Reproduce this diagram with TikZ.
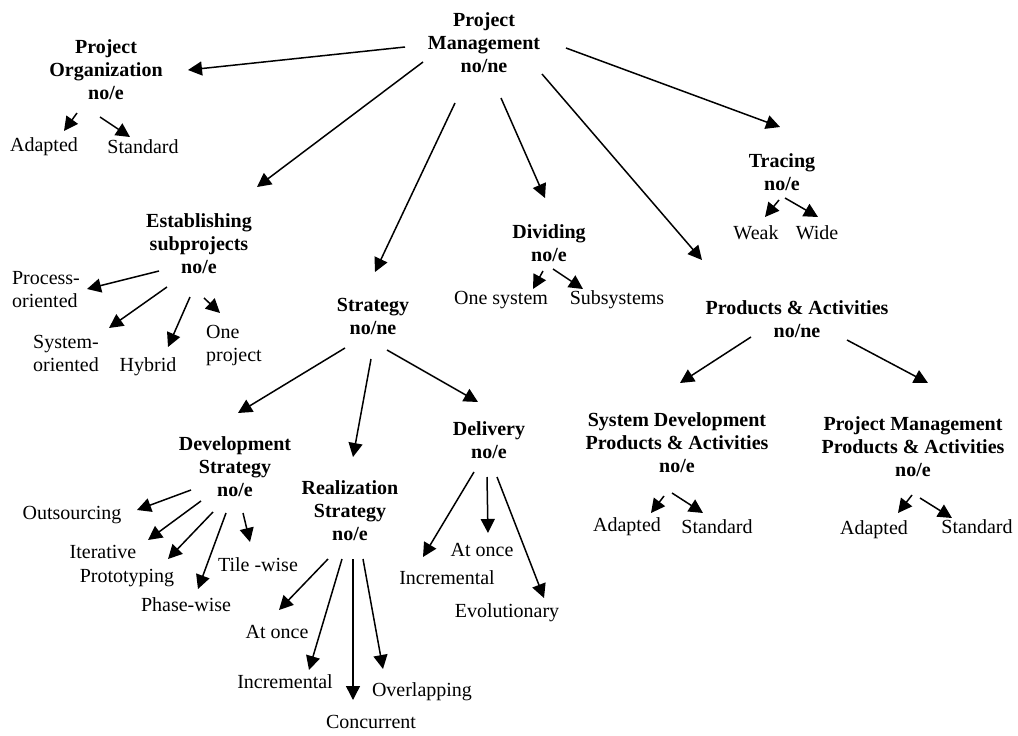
\documentclass[tikz,border=0pt]{standalone}
\usepackage{fontspec}
\setmainfont{Liberation Serif}
\usetikzlibrary{arrows.meta,calc}

\tikzset{
  lbl/.style={inner sep=0pt, align=center, font=\fontsize{20}{23}\selectfont},
  head/.style={lbl, font=\fontsize{20}{23}\selectfont\bfseries},
  leaf/.style={lbl},
  leafl/.style={lbl, align=left},
  arr/.style={line width=1.5pt, -{Triangle[length=14pt,width=14pt]}}
}
% arrow between two nodes, each end given as an offset from the node centre
\newcommand\lnk[4]{\draw[arr] ($(#1)+(#2)$) -- ($(#3)+(#4)$);}

\begin{document}
\begin{tikzpicture}[x=1pt,y=-1pt]
\useasboundingbox (0,0) rectangle (1018,736);

% root
\node[head] (pm) at (484,43) {Project\\Management\\no/ne};

% project organization
\node[head] (po) at (106,70) {Project\\Organization\\no/e};
\node[leaf] (po-a) at (44,147) {Adapted};
\node[leaf] (po-s) at (143,147) {Standard};

% establishing subprojects
\node[head] (est) at (199,244) {Establishing\\subprojects\\no/e};
\node[leafl] (est-p) at (46,290) {Process-\\oriented};
\node[leafl] (est-s) at (66,353) {System-\\oriented};
\node[leaf] (est-h) at (148,367) {Hybrid};
\node[leafl] (est-o) at (234,346) {One\\project};

% strategy
\node[head] (str) at (373,316) {Strategy\\no/ne};

% dividing
\node[head] (div) at (549,243) {Dividing\\no/e};
\node[leaf] (div-o) at (501,300) {One system};
\node[leaf] (div-s) at (617,300) {Subsystems};

% tracing
\node[head] (tr) at (782,172) {Tracing\\no/e};
\node[leaf] (tr-w) at (756,233) {Weak};
\node[leaf] (tr-d) at (817,233) {Wide};

% products & activities
\node[head] (pa) at (797,319) {Products \& Activities\\no/ne};
\node[head] (sd) at (677,443) {System Development\\Products \& Activities\\no/e};
\node[leaf] (sd-a) at (627,527) {Adapted};
\node[leaf] (sd-s) at (717,527) {Standard};
\node[head] (pp) at (913,447) {Project Management\\Products \& Activities\\no/e};
\node[leaf] (pp-a) at (874,530) {Adapted};
\node[leaf] (pp-s) at (977,527) {Standard};

% development strategy
\node[head] (ds) at (235,467) {Development\\Strategy\\no/e};
\node[leaf] (ds-o) at (72,515) {Outsourcing};
\node[leaf] (ds-i) at (103,552) {Iterative};
\node[leaf] (ds-r) at (127,578) {Prototyping};
\node[leaf] (ds-p) at (186,605) {Phase-wise};
\node[leaf] (ds-t) at (258,565) {Tile -wise};

% realization strategy
\node[head] (rs) at (350,511) {Realization\\Strategy\\no/e};
\node[leaf] (rs-a) at (277,632) {At once};
\node[leaf] (rs-i) at (285,682) {Incremental};
\node[leaf] (rs-c) at (371,722) {Concurrent};
\node[leaf] (rs-o) at (422,692) {Overlapping};

% delivery
\node[head] (dl) at (489,440) {Delivery\\no/e};
\node[leaf] (dl-a) at (482,550) {At once};
\node[leaf] (dl-i) at (447,578) {Incremental};
\node[leaf] (dl-e) at (507,613) {Evolutionary};

% connectors from the root
\lnk{pm}{-79,4}{po}{82,0}
\lnk{pm}{-61,19}{est}{58,-57}
\lnk{pm}{-29,60}{str}{2,-44}
\lnk{pm}{17,55}{div}{-4,-45}
\lnk{pm}{58,31}{pa}{-95,-59}
\lnk{pm}{82,5}{tr}{-2,-45}

% second level
\lnk{po}{-29,43}{po-a}{20,-16}
\lnk{po}{-6,47}{po-s}{-13,-10}
\lnk{est}{-40,27}{est-p}{41,-1}
\lnk{est}{-32,43}{est-s}{43,-25}
\lnk{est}{-9,53}{est-h}{20,-20}
\lnk{est}{5,54}{est-o}{-14,-33}
\lnk{div}{-6,28}{div-o}{32,-11}
\lnk{div}{4,26}{div-s}{-34,-11}
\lnk{tr}{-3,28}{tr-w}{9,-16}
\lnk{tr}{3,26}{tr-d}{1,-16}
\lnk{pa}{-46,18}{sd}{3,-60}
\lnk{pa}{50,21}{pp}{15,-64}
\lnk{sd}{-13,53}{sd-a}{24,-14}
\lnk{sd}{-5,50}{sd-s}{-14,-14}
\lnk{pp}{-1,48}{pp-a}{24,-17}
\lnk{pp}{7,51}{pp-s}{-25,-9}

% strategy branches
\lnk{str}{-28,32}{ds}{3,-54}
\lnk{str}{-2,43}{rs}{3,-54}
\lnk{str}{14,34}{dl}{-11,-38}
\lnk{ds}{-44,23}{ds-o}{65,-5}
\lnk{ds}{-34,34}{ds-i}{45,-12}
\lnk{ds}{-22,45}{ds-r}{41,-19}
\lnk{ds}{-9,46}{ds-p}{12,-16}
\lnk{ds}{8,46}{ds-t}{-8,-23}
\lnk{rs}{-22,48}{rs-a}{2,-22}
\lnk{rs}{-8,48}{rs-i}{24,-12}
\lnk{rs}{3,48}{rs-c}{-18,-22}
\lnk{rs}{13,48}{rs-o}{-39,-23}
\lnk{dl}{-15,32}{dl-i}{-24,-21}
\lnk{dl}{-2,37}{dl-a}{6,-17}
\lnk{dl}{8,37}{dl-e}{37,-15}
\end{tikzpicture}
\end{document}
